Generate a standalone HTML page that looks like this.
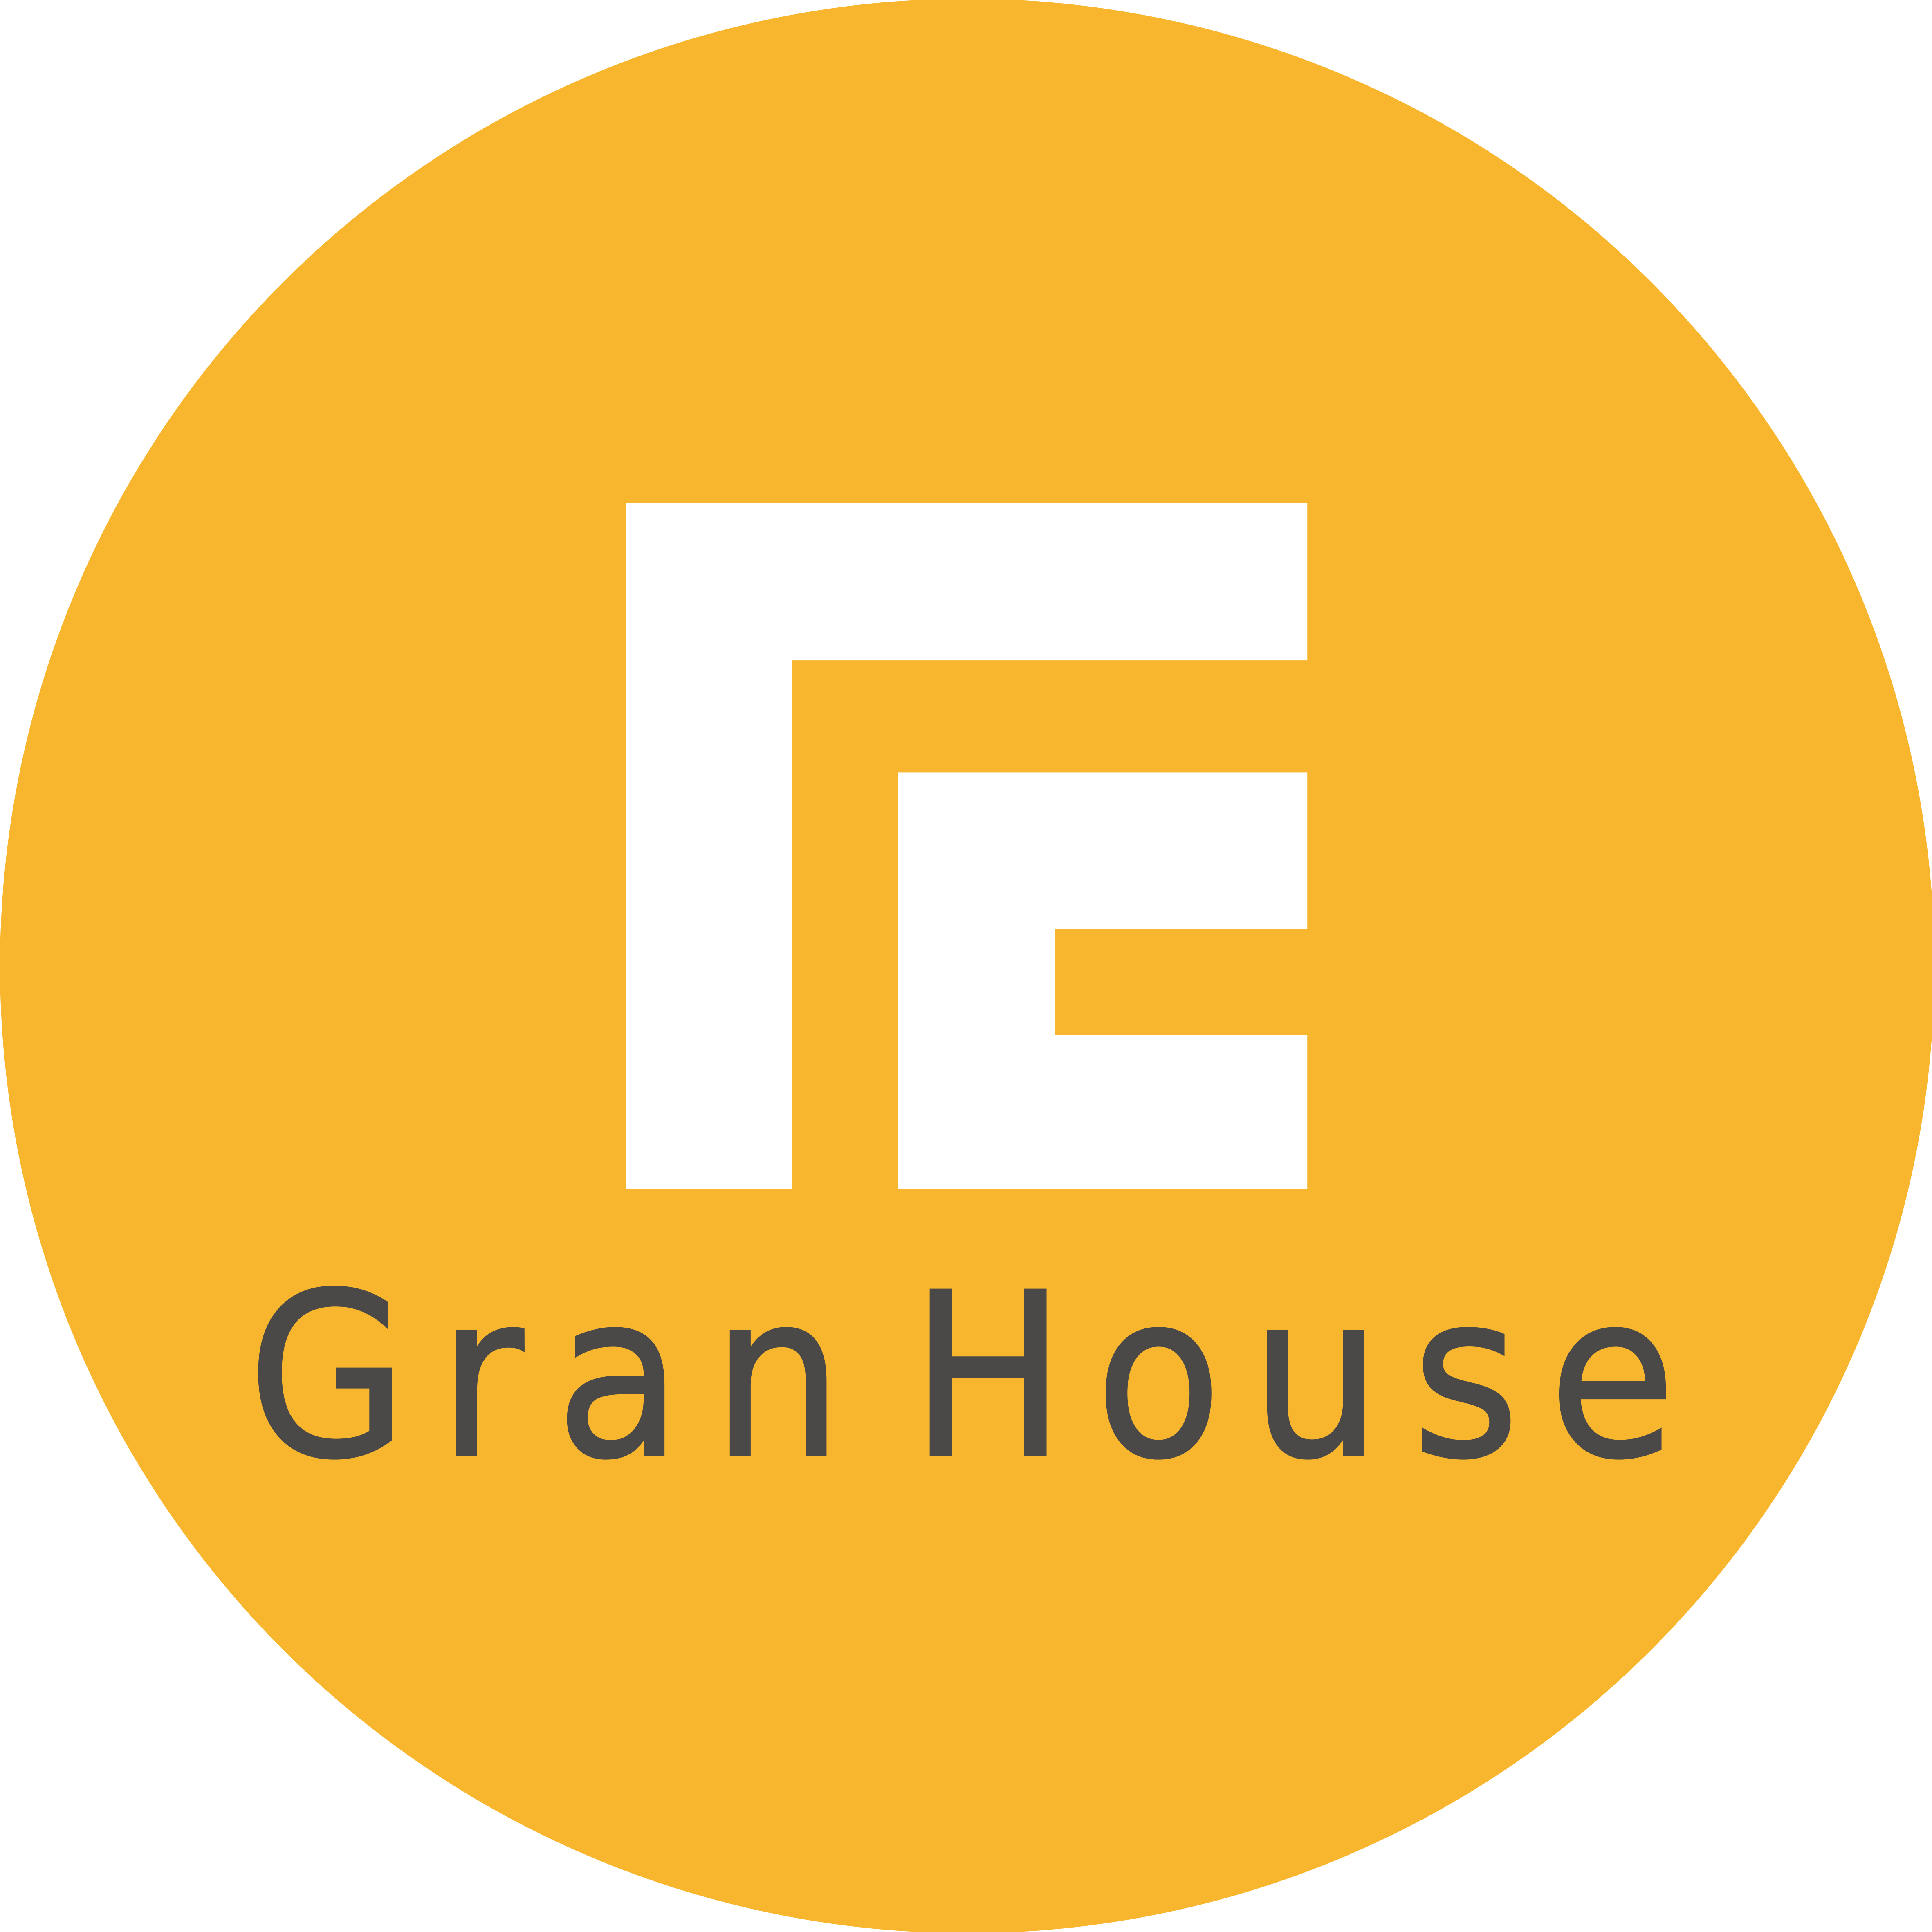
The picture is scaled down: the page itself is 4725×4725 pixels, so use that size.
<!DOCTYPE html>
<html><head><meta charset="utf-8"><style>
html,body{margin:0;padding:0;background:#fff;}
svg{display:block;}
</style></head><body>
<svg width="4725" height="4725" viewBox="0 0 1568 1568" xmlns="http://www.w3.org/2000/svg">
<rect width="1568" height="1568" fill="#fff"/>
<ellipse cx="785" cy="784" rx="785" ry="785" fill="#F7B62E"/>
<polygon fill="#fff" points="508,408 1061,408 1061,536 643,536 643,965 508,965"/>
<polygon fill="#fff" points="729,627 1061,627 1061,754 856,754 856,840 1061,840 1061,965 729,965"/>
<g fill="#4a4948" stroke="#4a4948" stroke-width="2" font-family="'DejaVu Sans', 'Liberation Sans', sans-serif" font-size="184">
<text transform="translate(201,1181) scale(0.91,1)">G</text>
<text transform="translate(356,1181) scale(0.91,1)">r</text>
<text transform="translate(451,1181) scale(0.91,1)">a</text>
<text transform="translate(578,1181) scale(0.91,1)">n</text>
<text transform="translate(739,1181) scale(0.91,1)">H</text>
<text transform="translate(889,1181) scale(0.91,1)">o</text>
<text transform="translate(1015,1181) scale(0.91,1)">u</text>
<text transform="translate(1146,1181) scale(0.91,1)">s</text>
<text transform="translate(1257,1181) scale(0.91,1)">e</text>
</g>
</svg>
</body></html>
